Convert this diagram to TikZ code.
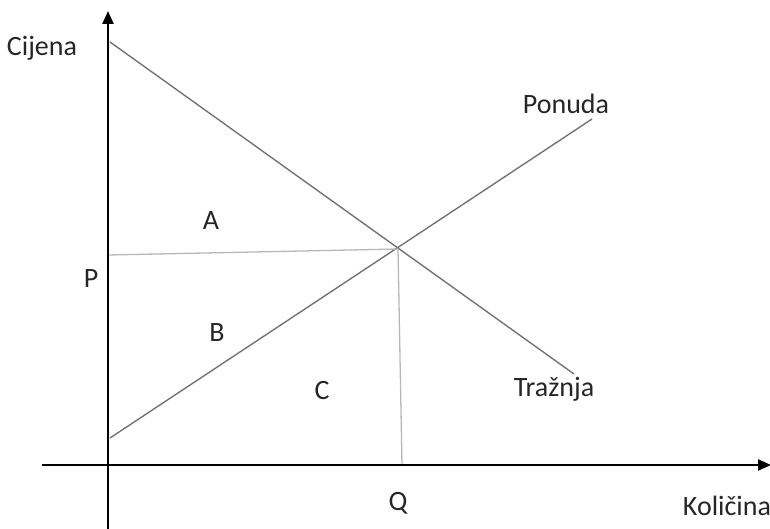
\documentclass[tikz,border=0pt]{standalone}
\usepackage{fontspec}
\setmainfont{Carlito}
\usetikzlibrary{arrows.meta}
\begin{document}
\begin{tikzpicture}[x=1pt,y=-1pt,
  axis/.style={line width=2pt,-{Triangle[length=13pt,width=11pt]}},
  curve/.style={line width=1.4pt,draw=black!55},
  guide/.style={line width=1.3pt,draw=black!28},
  lbl/.style={font=\fontsize{28}{33}\selectfont,inner sep=0pt,text=black!85}]
\useasboundingbox (0,0) rectangle (770,529);
\coordinate (ybot) at (108,529);
\coordinate (ytop) at (108,11);
\coordinate (xleft) at (42,465);
\coordinate (xright) at (771,465);
\coordinate (d1) at (110,42);
\coordinate (d2) at (574,374);
\coordinate (s1) at (110,438);
\coordinate (s2) at (592,119);
\coordinate (E) at (398,249);
\coordinate (pl) at (108,255);
\coordinate (qb) at (402,465);
\draw[curve] (d1) -- (d2);
\draw[curve] (s1) -- (s2);
\draw[guide] (pl) -- (E);
\draw[guide] (E) -- (qb);
\draw[axis] (ybot) -- (ytop);
\draw[axis] (xleft) -- (xright);
\node[lbl] (cijena) at (42,48) {Cijena};
\node[lbl] (ponuda) at (566,104) {Ponuda};
\node[lbl] (A) at (211,221) {A};
\node[lbl] (P) at (91,279) {P};
\node[lbl] (B) at (217,333) {B};
\node[lbl] (C) at (322,391) {C};
\node[lbl] (traznja) at (554,389) {Tražnja};
\node[lbl] (Q) at (398,503) {Q};
\node[lbl] (kolicina) at (727,506) {Količina};
\end{tikzpicture}
\end{document}
